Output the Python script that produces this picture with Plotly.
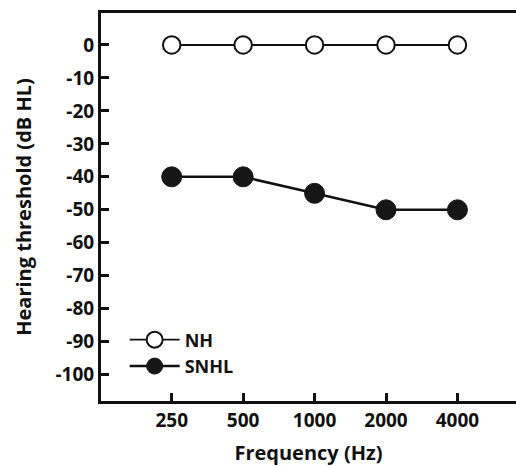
import plotly.graph_objects as go

freqs = ["250", "500", "1000", "2000", "4000"]
nh_values = [0, 0, 0, 0, 0]
snhl_values = [-40, -40, -45, -50, -50]
y_ticks = [0, -10, -20, -30, -40, -50, -60, -70, -80, -90, -100]
y_tick_labels = ["0", "-10", "-20", "-30", "-40", "-50", "-60", "-70", "-80", "-90", "-100"]

FONT = "Open Sans"

fig = go.Figure()
fig.add_trace(go.Scatter(
    x=freqs, y=nh_values, name="NH", mode="lines+markers",
    line=dict(color="#111111", width=1.8),
    marker=dict(symbol="circle", size=17.5, color="white",
                line=dict(color="#111111", width=2)),
))
fig.add_trace(go.Scatter(
    x=freqs, y=snhl_values, name="SNHL", mode="lines+markers",
    line=dict(color="#111111", width=2.5),
    marker=dict(symbol="circle", size=20, color="#161616",
                line=dict(color="#161616", width=1)),
))

fig.update_layout(
    width=516, height=466,
    margin=dict(l=101, r=0, t=13, b=65),
    plot_bgcolor="white", paper_bgcolor="white",
    font=dict(family=FONT, size=19, color="#111111"),
    showlegend=True,
    legend=dict(x=0.057, y=0.205, xanchor="left", yanchor="top",
                bgcolor="rgba(0,0,0,0)", itemwidth=50,
                font=dict(family=FONT, size=18, color="#111111", weight="bold"),
                tracegroupgap=0),
    xaxis=dict(
        type="category", range=[-0.99, 4.82],
        showline=True, linecolor="#111111", linewidth=3, mirror=True,
        ticks="inside", ticklen=8, tickwidth=2.5, tickcolor="#111111",
        showgrid=False, zeroline=False,
        tickfont=dict(family=FONT, size=19, weight="bold"),
        title=dict(text="Frequency (Hz)", standoff=17,
                   font=dict(family=FONT, size=20, weight="bold")),
    ),
    yaxis=dict(
        range=[-108, 9.7], tickvals=y_ticks, ticktext=y_tick_labels,
        showline=True, linecolor="#111111", linewidth=3, mirror=False,
        ticks="inside", ticklen=8, tickwidth=2.5, tickcolor="#111111",
        showgrid=False, zeroline=False,
        tickfont=dict(family=FONT, size=19, weight="bold"),
        title=dict(text="Hearing threshold (dB HL)", standoff=19,
                   font=dict(family=FONT, size=20, weight="bold")),
    ),
)

fig.write_html("out.html", config={"displayModeBar": False},
               post_script="document.body.style.margin='0';")
